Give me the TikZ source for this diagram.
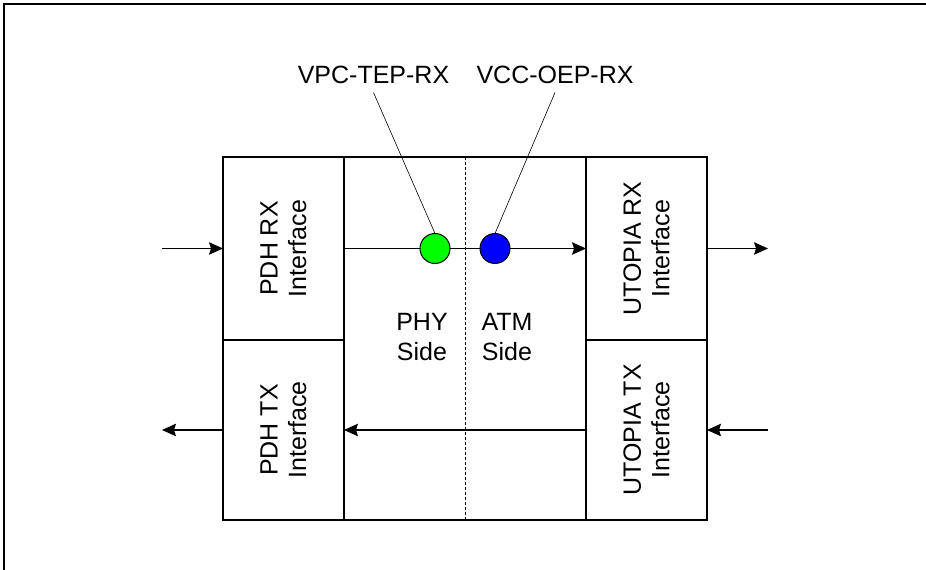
\documentclass[tikz,border=0pt]{standalone}
\usepackage{fontspec}
\setmainfont{Liberation Sans}
\usepackage{xcolor}
\usepackage{tikz}
\usetikzlibrary{arrows.meta,positioning,calc}
\definecolor{tepgreen}{RGB}{0,255,0}
\definecolor{oepblue}{RGB}{0,0,255}
\tikzset{
  ifbox/.style={draw, line width=1.2pt, minimum width=121pt, inner sep=0pt, outer sep=0pt},
  corebox/.style={draw, line width=1.2pt, minimum width=242pt, minimum height=363pt, inner sep=0pt, outer sep=0pt},
  iftext/.style={rotate=90, align=center, inner sep=0pt, font=\fontsize{25}{28.5}\selectfont},
  sidetext/.style={align=center, inner sep=0pt, font=\fontsize{25}{30}\selectfont},
  eptag/.style={inner sep=0pt, outer sep=0pt, font=\fontsize{25}{30}\selectfont},
  epdot/.style={circle, draw, line width=1pt, minimum size=30pt, inner sep=0pt, outer sep=0pt},
  ifmsg/.style={-{Stealth[length=14pt,width=12.5pt,inset=2pt]}, line width=1.1pt},
  epline/.style={line width=0.6pt}
}
\begin{document}
\begin{tikzpicture}[x=1pt,y=1pt]
\useasboundingbox (0,0) rectangle (926,570);
\draw[line width=1.5pt] (4,0) -- (4,566) -- (926,566);
\node[corebox] (core) at (465,231.5) {};
\node[ifbox, minimum height=183pt, anchor=north east] (pdhrx) at (core.north west) {};
\node[ifbox, minimum height=180pt, anchor=north] (pdhtx) at (pdhrx.south) {};
\node[ifbox, minimum height=183pt, anchor=north west] (utopiarx) at (core.north east) {};
\node[ifbox, minimum height=180pt, anchor=north] (utopiatx) at (utopiarx.south) {};
\node[iftext] (pdhrxtext) at (pdhrx) {PDH RX\\Interface};
\node[iftext] (pdhtxtext) at (pdhtx) {PDH TX\\Interface};
\node[iftext] (utopiarxtext) at (utopiarx) {UTOPIA RX\\Interface};
\node[iftext] (utopiatxtext) at (utopiatx) {UTOPIA TX\\Interface};
\draw[dashed, dash pattern=on 3pt off 2pt, line width=1pt] (core.north) -- (core.south);
\node[sidetext] (physide) at (422,233) {PHY\\Side};
\node[sidetext] (atmside) at (507,233) {ATM\\Side};
\coordinate (rxin) at ($(pdhrx.west)+(-61,0)$);
\coordinate (rxout) at ($(utopiarx.east)+(61,0)$);
\coordinate (txin) at ($(utopiatx.east)+(61,0)$);
\coordinate (txout) at ($(pdhtx.west)+(-61,0)$);
\draw[ifmsg] (rxin) -- (pdhrx.west);
\draw[ifmsg] (pdhrx.east) -- (utopiarx.west);
\draw[ifmsg] (utopiarx.east) -- (rxout);
\draw[ifmsg] (txin) -- (utopiatx.east);
\draw[ifmsg] (utopiatx.west) -- (pdhtx.east);
\draw[ifmsg] (pdhtx.west) -- (txout);
\node[epdot, fill=tepgreen] (tepdot) at (435,321.5) {};
\node[epdot, fill=oepblue] (oepdot) at (495,321.5) {};
\node[eptag] (teptag) at (373.5,494.8) {VPC-TEP-RX};
\node[eptag] (oeptag) at (555,494.8) {VCC-OEP-RX};
\draw[epline] ([yshift=-8.5pt]teptag.south) -- (tepdot.north);
\draw[epline] ([yshift=-8.5pt]oeptag.south) -- (oepdot.north);
\end{tikzpicture}
\end{document}
